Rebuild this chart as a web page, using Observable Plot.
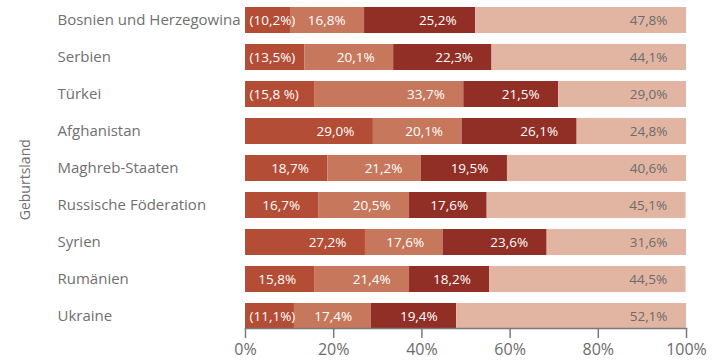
<!DOCTYPE html>
<html>
<head>
<meta charset="utf-8">
<script src="https://cdn.jsdelivr.net/npm/d3@7"></script>
<script src="https://cdn.jsdelivr.net/npm/@observablehq/plot@0.6"></script>
<style>
  html, body { margin: 0; padding: 0; background: #fff; }
  #chart svg { display: block; }
</style>
</head>
<body>
<div id="chart"></div>
<script>
const countries = ["Bosnien und Herzegowina", "Serbien", "Türkei", "Afghanistan", "Maghreb-Staaten", "Russische Föderation", "Syrien", "Rumänien", "Ukraine"];
const seg1 = [10.2, 13.5, 15.8, 29.0, 18.7, 16.7, 27.2, 15.8, 11.1];
const seg2 = [16.8, 20.1, 33.7, 20.1, 21.2, 20.5, 17.6, 21.4, 17.4];
const seg3 = [25.2, 22.3, 21.5, 26.1, 19.5, 17.6, 23.6, 18.2, 19.4];
const seg4 = [47.8, 44.1, 29.0, 24.8, 40.6, 45.1, 31.6, 44.5, 52.1];
const seg1Labels = ["(10,2%)", "(13,5%)", "(15,8 %)", "29,0%", "18,7%", "16,7%", "27,2%", "15,8%", "(11,1%)"];
const segColors = ["#b34d36", "#c7785c", "#912e25", "#e2b5a3"];
const tickValues = [0, 0.2, 0.4, 0.6, 0.8, 1.0];
const axisTitle = "Geburtsland";

const fmt = v => v.toFixed(1).replace(".", ",") + "%";
const series = [seg1, seg2, seg3, seg4];
const rows = [];
countries.forEach((c, i) => {
  let acc = 0;
  series.forEach((s, k) => {
    const v = s[i] / 100;
    const label = k === 0 ? seg1Labels[i] : fmt(s[i]);
    rows.push({country: c, seg: k, x1: acc, x2: acc + v, label, paren: label.startsWith("(")});
    acc += v;
  });
});

const font = "Open Sans, Lato, sans-serif";

const chart = Plot.plot({
  width: 719,
  height: 363,
  marginLeft: 245,
  marginRight: 33,
  marginTop: 1.5,
  marginBottom: 35,
  style: {fontFamily: font, background: "#fff"},
  x: {domain: [0, 1]},
  y: {domain: countries, range: [1.5, 334.5], paddingInner: 0.3, paddingOuter: 0.15, align: 0.5},
  marks: [
    Plot.barX(rows, {x1: "x1", x2: "x2", y: "country", fill: d => segColors[d.seg]}),
    Plot.text(rows.filter(d => !d.paren), {
      x: "x2", y: "country", text: "label", textAnchor: "end", dx: -19,
      fill: d => d.seg === 3 ? "#6b6b6b" : "#ffffff", fontSize: 13.5, fontFamily: font
    }),
    Plot.text(rows.filter(d => d.paren), {
      x: "x1", y: "country", text: "label", textAnchor: "start", dx: 4,
      fill: "#ffffff", fontSize: 13.5, fontFamily: font
    }),
    Plot.text(countries, {
      y: d => d, text: d => d, frameAnchor: "left", textAnchor: "start", dx: -188,
      fill: "#707070", fontSize: 15, fontFamily: font
    }),
    Plot.text([axisTitle], {
      text: d => d, frameAnchor: "left", rotate: -90, dx: -220, dy: 55,
      fill: "#707070", fontSize: 14, fontFamily: font
    }),
    Plot.frame({anchor: "bottom", stroke: "#7a7a7a", strokeWidth: 1.5}),
    Plot.axisX({
      ticks: tickValues, tickFormat: d => Math.round(d * 100) + "%", tickSize: 10, tickPadding: 5,
      stroke: "#7a7a7a", strokeWidth: 1.5, fill: "#6b6b6b", fontSize: 16, label: null
    }),
    Plot.axisY({ticks: [], label: null, tickSize: 0})
  ]
});
document.getElementById("chart").appendChild(chart);
</script>
</body>
</html>
